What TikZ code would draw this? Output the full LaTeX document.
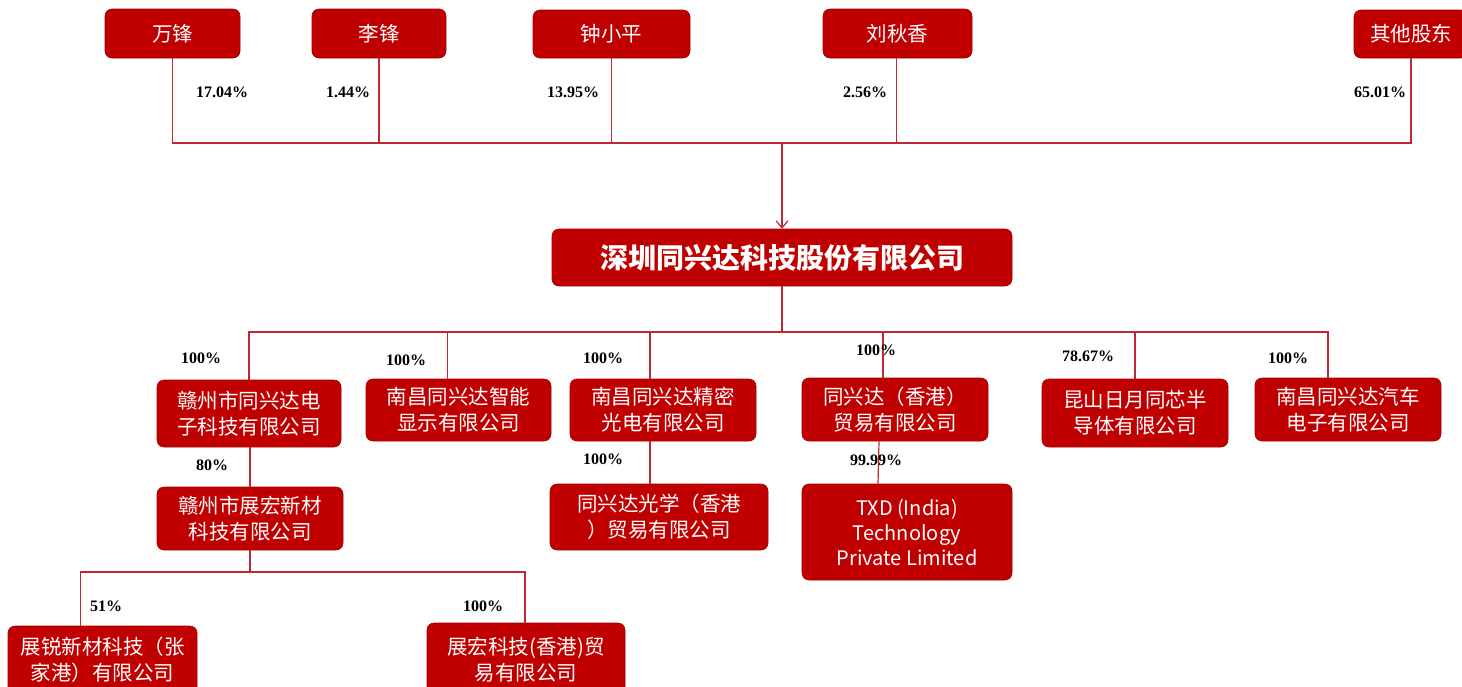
\documentclass[tikz,border=0pt]{standalone}
\usepackage{fontspec}
\setmainfont{Liberation Serif}
\newfontfamily\cjk{Noto Sans CJK SC}
\usetikzlibrary{arrows.meta}
\definecolor{boxred}{RGB}{192,0,0}
\definecolor{linered}{RGB}{190,40,50}
\begin{document}
\begin{tikzpicture}[x=1pt,y=-1pt,
  box/.style={fill=boxred, draw=boxred!85!black, line width=0.6pt, rounded corners=7pt,
    text=white, font=\cjk\fontsize{20.5}{26}\selectfont, align=center, inner sep=0pt},
  link/.style={draw=linered, line width=1.2pt},
  pct/.style={font=\bfseries\fontsize{16}{18}\selectfont, text=black, inner sep=0pt}]
\useasboundingbox (0,0) rectangle (1462,686);
\clip (0,0) rectangle (1462,686);
\fill[white] (0,0) rectangle (1462,686);

% shareholders
\node[box, minimum width=135, minimum height=49] (wf) at (172.5,33.5) {万锋};
\node[box, minimum width=134, minimum height=49] (lf) at (379,33.5) {李锋};
\node[box, minimum width=157, minimum height=48] (zxp) at (611.5,34) {钟小平};
\node[box, minimum width=149, minimum height=49] (lqx) at (897.5,33.5) {刘秋香};
\node[box, minimum width=114, minimum height=48] (qt) at (1411,34) {其他股东};

% main company
\node[box, minimum width=460, minimum height=57, font=\cjk\bfseries\fontsize{28}{32}\selectfont] (main) at (782,257.5) {深圳同兴达科技股份有限公司};

% first level
\node[box, minimum width=184, minimum height=67] (c1) at (249,413.5) {赣州市同兴达电\\子科技有限公司};
\node[box, minimum width=185, minimum height=62] (c2) at (458.5,410) {南昌同兴达智能\\显示有限公司};
\node[box, minimum width=186, minimum height=62] (c3) at (663,410) {南昌同兴达精密\\光电有限公司};
\node[box, minimum width=186, minimum height=63] (c4) at (895,409.5) {同兴达（香港）\\贸易有限公司};
\node[box, minimum width=186, minimum height=68] (c5) at (1135,413) {昆山日月同芯半\\导体有限公司};
\node[box, minimum width=186, minimum height=63] (c6) at (1348,409.5) {南昌同兴达汽车\\电子有限公司};

% second level
\node[box, minimum width=186, minimum height=63] (d1) at (250,518.5) {赣州市展宏新材\\科技有限公司};
\node[box, minimum width=218, minimum height=66] (d2) at (659,517) {同兴达光学（香港\\）贸易有限公司};
\node[box, minimum width=210, minimum height=96, font=\cjk\fontsize{20}{25}\selectfont] (d3) at (907,532) {TXD (India)\\Technology\\Private Limited};

% third level
\node[box, minimum width=189, minimum height=68] (e1) at (102.5,660) {展锐新材科技（张\\家港）有限公司};
\node[box, minimum width=198, minimum height=74] (e2) at (526,660) {展宏科技(香港)贸\\易有限公司};

% hubs
\coordinate (tophub) at (782,143);
\coordinate (midhub) at (782,332);
\coordinate (lowhub) at (250,572);

% shareholder links
\draw[link] (wf.south) -- (wf.south |- tophub) -- (qt.south |- tophub) -- (qt.south);
\draw[link] (lf.south) -- (lf.south |- tophub);
\draw[link] (zxp.south) -- (zxp.south |- tophub);
\draw[link] ([xshift=-1]lqx.south) -- ([xshift=-1]lqx.south |- tophub);
\draw[link, -{Straight Barb[length=7pt,width=12pt,line width=1.2pt]}] (tophub) -- (main.north);

% subsidiaries
\draw[link] (main.south) -- (midhub);
\draw[link] (c1.north) -- (c1.north |- midhub) -- ([xshift=-20]c6.north |- midhub) -- ([xshift=-20]c6.north);
\draw[link] ([xshift=-11]c2.north) -- ([xshift=-11]c2.north |- midhub);
\draw[link] ([xshift=-13]c3.north) -- ([xshift=-13]c3.north |- midhub);
\draw[link] ([xshift=-12]c4.north) -- ([xshift=-12]c4.north |- midhub);
\draw[link] (c5.north) -- (c5.north |- midhub);

\draw[link] ([xshift=1]c1.south) -- (d1.north);
\draw[link] ([xshift=-13]c3.south) -- ([xshift=-9]d2.north);
\draw[link] ([xshift=-16]c4.south) -- ([xshift=-29]d3.north);

\draw[link] (d1.south) -- (lowhub);
\draw[link] ([xshift=-22]e1.north) -- ([xshift=-22]e1.north |- lowhub) -- ([xshift=-1]e2.north |- lowhub) -- ([xshift=-1]e2.north);

% percentages
\node[pct] (p1) at (222,92) {17.04\%};
\node[pct] (p2) at (348,92) {1.44\%};
\node[pct] (p3) at (573,92) {13.95\%};
\node[pct] (p4) at (865,92) {2.56\%};
\node[pct] (p5) at (1380,92) {65.01\%};
\node[pct] (q1) at (201,358) {100\%};
\node[pct] (q2) at (406,360) {100\%};
\node[pct] (q3) at (603,358) {100\%};
\node[pct] (q4) at (876,350) {100\%};
\node[pct] (q5) at (1088,356) {78.67\%};
\node[pct] (q6) at (1288,358) {100\%};
\node[pct] (r1) at (212,465) {80\%};
\node[pct] (r2) at (603,459) {100\%};
\node[pct] (r3) at (876,460) {99.99\%};
\node[pct] (s1) at (106,606) {51\%};
\node[pct] (s2) at (483,606) {100\%};
\end{tikzpicture}
\end{document}
